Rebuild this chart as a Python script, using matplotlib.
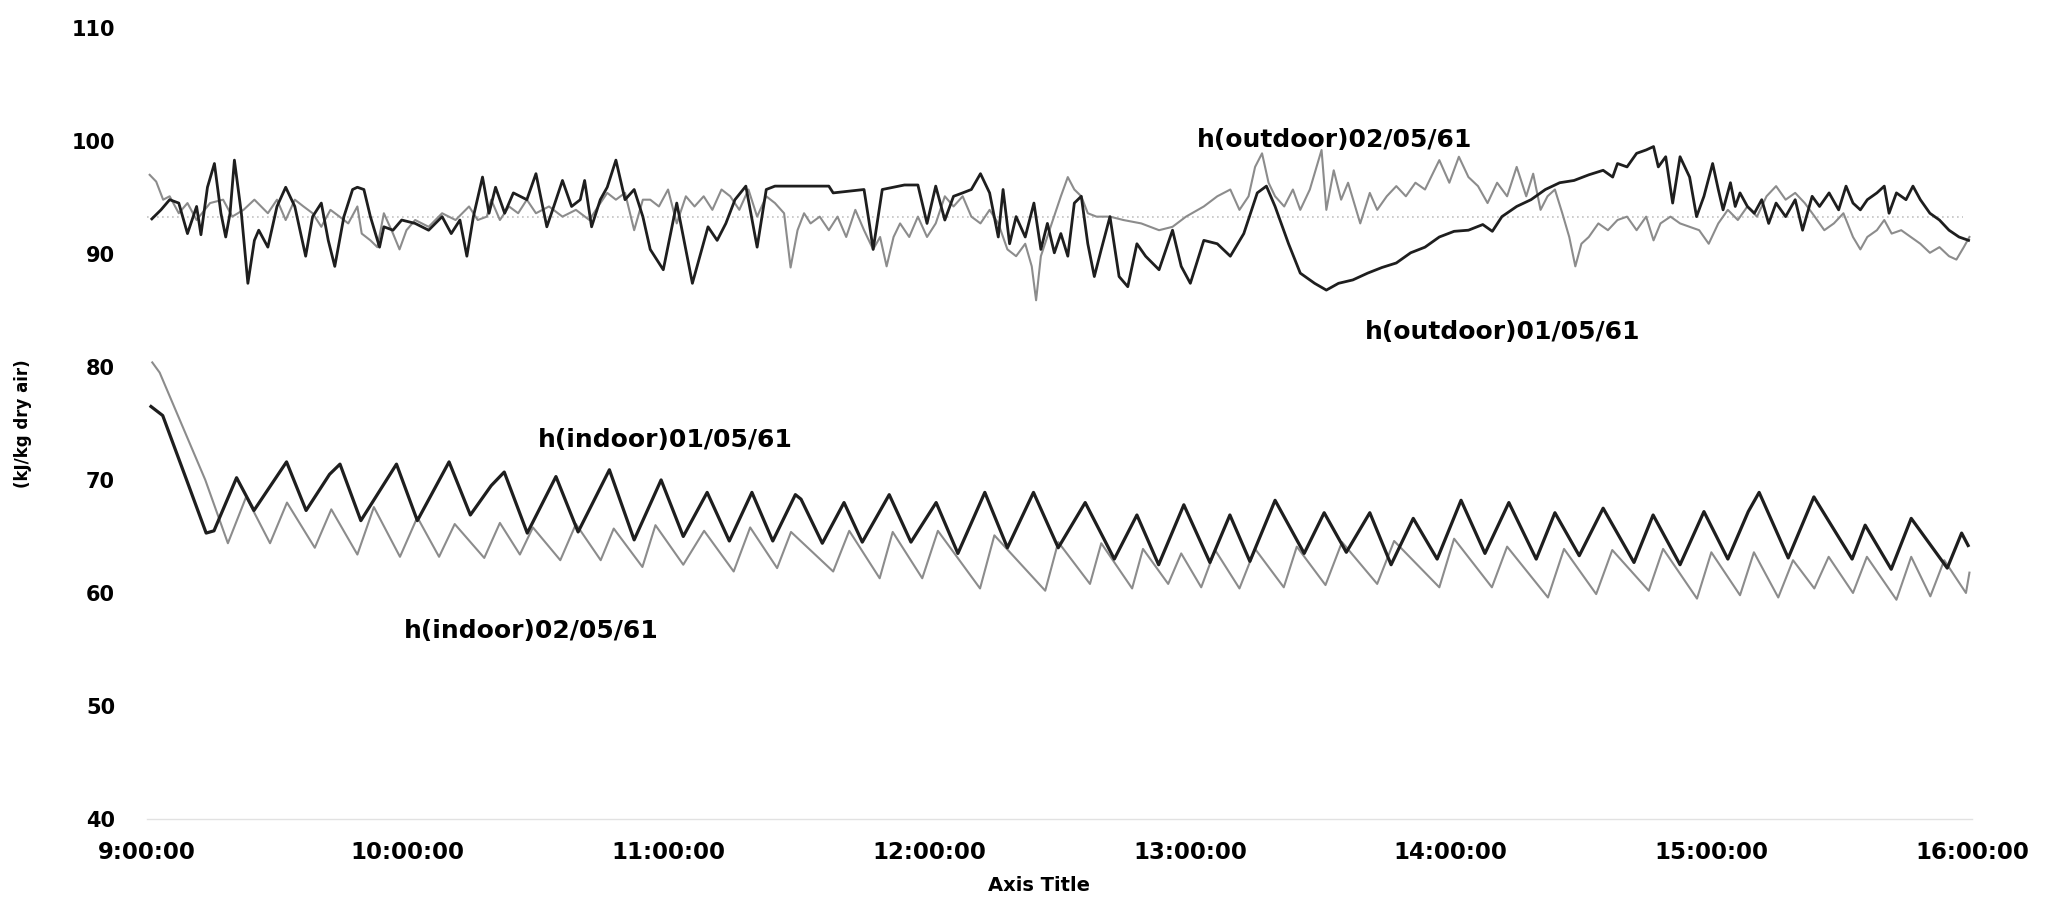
import matplotlib.pyplot as plt

# Enthalpy of air (kJ/kg dry air), indoor and outdoor, two days
# time in minutes after 9:00

# indoor, 01/05/61
in1_t = [0.9, 3.6, 9.1, 13.6, 15.4, 20.6, 24.6, 32.1, 36.6, 42.0, 44.4, 49.2, 57.4, 62.2,
         69.5, 74.4, 79.2, 82.2, 87.5, 94.1, 99.2, 106.4, 112.1, 118.3, 123.4, 128.9, 134.0,
         139.2, 144.0, 149.2, 150.5, 155.4, 160.4, 164.6, 170.8, 175.8, 181.6, 186.6, 192.8,
         198.0, 204.0, 209.7, 215.9, 222.6, 227.8, 232.8, 238.6, 244.6, 249.2, 253.8, 259.6,
         266.3, 270.9, 276.0, 281.4, 286.3, 291.4, 296.9, 302.4, 307.9, 313.4, 319.7, 324.0,
         329.6, 335.1, 342.2, 346.6, 352.8, 358.3, 363.8, 368.5, 371.0, 377.7, 383.6, 392.4,
         395.4, 401.4, 406.0, 414.3, 417.6, 419.1]
in1_v = [76.5, 75.7, 70.0, 65.3, 65.5, 70.2, 67.3, 71.6, 67.3, 70.5, 71.4, 66.4, 71.4, 66.4,
         71.6, 66.9, 69.5, 70.7, 65.3, 70.3, 65.4, 70.9, 64.7, 70.0, 65.0, 68.9, 64.6,
         68.9, 64.6, 68.7, 68.3, 64.4, 68.0, 64.5, 68.7, 64.5, 68.0, 63.5, 68.9,
         64.0, 68.9, 64.0, 68.0, 63.0, 66.9, 62.5, 67.8, 62.7, 66.9, 62.8, 68.2,
         63.5, 67.1, 63.6, 67.1, 62.5, 66.6, 63.0, 68.2, 63.5, 68.0, 63.0, 67.1,
         63.3, 67.5, 62.7, 66.9, 62.5, 67.2, 63.0, 67.2, 68.9, 63.1, 68.5, 63.0,
         66.0, 62.1, 66.6, 62.2, 65.3, 64.2]

# indoor, 02/05/61
in2_t = [1.2, 2.9, 13.4, 18.6, 22.8, 28.3, 32.2, 38.6, 42.4, 48.4, 52.2, 58.2, 62.2, 67.2,
         70.8, 77.6, 81.2, 85.8, 88.8, 95.1, 98.7, 104.4, 107.4, 114.0, 117.0, 123.4, 128.2,
         135.0, 138.8, 145.0, 148.2, 157.9, 161.6, 168.6, 171.6, 178.4, 182.0, 191.7, 195.0,
         206.7, 209.7, 217.0, 219.6, 226.7, 229.2, 235.0, 238.0, 242.6, 245.8, 251.4, 255.0,
         261.6, 264.6, 271.2, 275.0, 283.1, 287.0, 297.4, 300.8, 309.5, 313.0, 322.4, 326.1,
         333.5, 337.2, 345.6, 348.9, 356.7, 360.0, 366.6, 369.8, 375.4, 378.8, 383.7, 387.0,
         392.6, 395.8, 402.6, 406.0, 410.4, 413.6, 418.6, 419.4]
in2_v = [80.4, 79.5, 70.0, 64.4, 68.5, 64.4, 68.0, 64.0, 67.4, 63.4, 67.6, 63.2, 66.7, 63.2,
         66.1, 63.1, 66.2, 63.4, 65.8, 62.9, 66.1, 62.9, 65.7, 62.3, 66.0, 62.5, 65.5,
         61.9, 65.8, 62.2, 65.4, 61.9, 65.5, 61.3, 65.4, 61.3, 65.5, 60.4, 65.1,
         60.2, 64.5, 60.8, 64.4, 60.4, 63.9, 60.8, 63.5, 60.5, 63.8, 60.4, 63.9,
         60.5, 64.1, 60.7, 64.5, 60.8, 64.6, 60.5, 64.8, 60.5, 64.1, 59.6, 63.9,
         59.9, 63.8, 60.2, 63.9, 59.5, 63.6, 59.8, 63.6, 59.6, 62.9, 60.4, 63.2,
         60.0, 63.2, 59.4, 63.2, 59.7, 62.9, 60.0, 61.8]

# outdoor, 01/05/61
out1_t = [1.1, 3.2, 5.2, 7.3, 9.3, 11.4, 12.4, 13.9, 15.5, 17.0, 18.1, 19.1, 20.1, 21.7,
          23.2, 24.7, 25.7, 27.8, 29.9, 31.9, 34.0, 36.5, 38.1, 40.1, 41.7, 43.2, 45.3,
          47.3, 48.4, 49.9, 51.4, 53.5, 54.5, 56.6, 58.6, 61.7, 64.8, 67.9, 70.0, 72.0,
          73.6, 75.1, 77.2, 78.7, 80.2, 82.3, 84.3, 87.4, 89.5, 92.0, 93.6, 95.6, 97.7,
          99.7, 100.7, 102.3, 104.3, 105.9, 107.9, 110.0, 112.1, 114.1,
          115.8, 118.8, 121.9, 125.5, 129.1, 131.2, 133.2, 135.3, 137.8, 140.4, 142.5,
          144.5, 146.6, 156.9, 157.9, 165.0, 166.1, 167.1, 169.2, 174.3, 177.4, 179.5,
          181.5, 183.6, 185.6, 187.7, 189.7, 191.8, 193.9, 195.9, 197.0, 198.5, 200.0,
          202.1, 204.1, 205.7, 207.2, 208.8, 210.3, 211.9, 213.4, 215.0, 216.5, 218.0,
          219.6, 221.6, 223.7, 225.7, 227.8, 229.8, 232.9, 236.0, 238.0, 240.1, 243.2,
          246.3, 249.3, 252.4, 255.5, 257.6, 259.6, 262.7,
          265.4, 268.7, 271.4, 274.2, 277.5, 280.9, 284.2, 287.5, 290.8, 294.1, 297.4,
          300.8, 304.1, 307.4, 309.6, 311.8, 315.2, 318.5, 321.8, 325.1, 328.4, 331.8,
          335.1, 337.3, 338.4, 340.6, 342.8, 345.0, 346.7, 347.8, 349.5, 351.1, 352.8,
          355.0, 356.6, 358.3, 360.3, 361.6, 362.7, 364.4, 365.5, 366.6, 368.3, 369.9,
          371.6, 373.2, 374.9, 377.1, 379.3, 381.0, 383.2, 384.9, 387.1, 389.3, 391.0,
          392.6, 394.3, 395.9, 398.1, 399.8, 400.9, 402.6, 404.8, 406.4, 408.1, 410.3,
          412.5, 414.7, 417.0, 419.2]
out1_v = [93.1, 93.9, 94.8, 94.5, 91.8, 94.2, 91.7, 95.9, 98.0, 93.6, 91.5, 93.6, 98.3, 93.6,
          87.4, 91.2, 92.1, 90.6, 94.2, 95.9, 94.2, 89.8, 93.3, 94.5, 91.2, 88.9, 93.3,
          95.7, 95.9, 95.7, 93.3, 90.6, 92.4, 92.1, 93.0, 92.7, 92.1, 93.3, 91.8, 93.0,
          89.8, 93.3, 96.8, 93.6, 95.9, 93.6, 95.4, 94.8, 97.1, 92.4, 94.2, 96.5, 94.2,
          94.8, 96.5, 92.4, 94.8, 95.9, 98.3, 94.8, 95.7, 93.3,
          90.4, 88.6, 94.5, 87.4, 92.4, 91.2, 92.7, 94.8, 96.0, 90.6, 95.7,
          96.0, 96.0, 96.0, 95.4, 95.7, 93.0, 90.4, 95.7, 96.1, 96.1, 92.7,
          96.0, 93.0, 95.1, 95.4, 95.7, 97.1, 95.4, 91.5, 95.7, 90.9, 93.3,
          91.5, 94.5, 90.4, 92.7, 90.1, 91.8, 89.8, 94.5, 95.1, 90.9, 88.0,
          90.4, 93.3, 88.0, 87.1, 90.9, 89.8, 88.6, 92.1, 88.9, 87.4, 91.2,
          90.9, 89.8, 91.8, 95.4, 96.0, 94.2, 90.9,
          88.3, 87.4, 86.8, 87.4, 87.7, 88.3, 88.8, 89.2, 90.1, 90.6, 91.5,
          92.0, 92.1, 92.6, 92.0, 93.3, 94.2, 94.8, 95.7, 96.3, 96.5, 97.0,
          97.4, 96.8, 98.0, 97.7, 98.9, 99.2, 99.5, 97.7, 98.6, 94.5, 98.6,
          96.8, 93.3, 95.1, 98.0, 95.7, 93.9, 96.3, 94.2, 95.4, 94.2, 93.6,
          94.8, 92.7, 94.5, 93.3, 94.8, 92.1, 95.1, 94.2, 95.4, 93.9, 96.0,
          94.5, 93.9, 94.8, 95.4, 96.0, 93.6, 95.4, 94.8, 96.0, 94.8, 93.6,
          93.0, 92.1, 91.5, 91.2]

# outdoor, 02/05/61
out2_t = [0.6, 2.1, 3.7, 5.2, 7.3, 9.3, 11.4, 14.5, 17.5, 19.6, 22.2, 24.7, 27.8, 29.9,
          31.9, 34.0, 36.0, 38.1, 40.1, 42.2, 44.3, 46.3, 48.4, 49.4, 51.4, 53.0, 54.5,
          56.6, 58.1, 59.7, 61.7, 64.8, 67.9, 71.0, 74.1, 76.1, 78.2, 79.2, 81.2, 83.3,
          85.4, 87.4, 89.5, 92.5, 95.6, 98.7, 101.8, 103.8, 105.9, 107.9, 110.0, 112.1, 114.1,
          115.8, 117.8, 119.9, 121.9, 124.0, 126.0, 128.1, 130.1, 132.2, 134.2, 136.3,
          138.4, 140.4, 142.5, 144.5, 146.6, 148.1, 149.7, 151.2, 152.7, 154.8, 156.9,
          158.9, 160.9, 163.0, 165.0, 167.1, 168.7, 170.2, 171.8, 173.3, 175.4, 177.4,
          179.5, 181.5, 183.6, 185.6, 187.7, 189.7, 191.8, 193.9, 195.9, 198.0, 200.0,
          202.1, 203.6, 204.6, 205.7, 208.2, 210.3, 211.9, 213.4, 215.0, 216.5, 218.5,
          221.6, 224.7, 228.8, 232.9, 236.0, 239.1, 243.2, 246.3, 249.3, 251.4, 253.5,
          255.0, 256.6, 258.1, 259.6, 261.7, 263.7,
          265.4, 267.6, 270.3, 271.4, 273.1, 274.8, 276.4, 279.2, 281.4, 283.1, 285.3,
          287.5, 289.7, 291.9, 294.1, 297.4, 299.7, 301.9, 304.1, 306.3, 308.5, 310.7,
          313.0, 315.2, 317.4, 319.0, 320.7, 322.3, 324.0, 325.7, 327.3, 328.7, 330.1,
          331.8, 334.0, 336.2, 338.4, 340.6, 342.8, 345.0, 346.7, 348.3, 350.6, 352.8,
          355.0, 357.2, 359.4, 361.6, 363.8, 366.1, 368.3, 370.5, 372.7, 374.9, 377.1,
          379.3, 381.5, 383.8, 386.0, 388.2, 390.4, 392.6, 394.3, 395.9, 398.1, 399.8,
          401.5, 403.7, 405.9, 408.1, 410.3, 412.5, 414.7, 416.4, 418.1, 419.4]
out2_v = [97.0, 96.4, 94.8, 95.1, 93.6, 94.5, 93.0, 94.5, 94.8, 93.3, 93.9, 94.8, 93.6, 94.8,
          93.0, 94.8, 94.2, 93.6, 92.4, 93.9, 93.3, 92.7, 94.2, 91.8, 91.2, 90.6, 93.6,
          91.8, 90.4, 92.1, 93.0, 92.4, 93.6, 93.0, 94.2, 93.0, 93.3, 94.8, 93.0, 94.2,
          93.6, 94.8, 93.6, 94.2, 93.3, 93.9, 93.0, 94.2, 95.4, 94.8, 95.4, 92.1, 94.8,
          94.8, 94.2, 95.7, 92.7, 95.1, 94.2, 95.1, 93.9, 95.7, 95.1, 93.9,
          95.7, 93.3, 95.1, 94.5, 93.6, 88.8, 92.1, 93.6, 92.7, 93.3, 92.1,
          93.3, 91.5, 93.9, 92.1, 90.4, 91.5, 88.9, 91.5, 92.7, 91.5, 93.3,
          91.5, 92.7, 95.1, 94.2, 95.1, 93.3, 92.7, 93.9, 92.7, 90.4, 89.8,
          90.9, 88.9, 85.9, 89.8, 92.7, 95.1, 96.8, 95.7, 95.1, 93.6, 93.3,
          93.3, 93.0, 92.7, 92.1, 92.4, 93.3, 94.2, 95.1, 95.7, 93.9, 95.1,
          97.7, 98.9, 96.3, 95.1, 94.2, 95.7,
          93.9, 95.7, 99.2, 93.9, 97.4, 94.8, 96.3, 92.7, 95.4, 93.9, 95.1,
          96.0, 95.1, 96.3, 95.7, 98.3, 96.3, 98.6, 96.8, 96.0, 94.5, 96.3,
          95.1, 97.7, 95.1, 97.1, 93.9, 95.1, 95.7, 93.6, 91.5, 88.9, 90.9,
          91.5, 92.7, 92.1, 93.0, 93.3, 92.1, 93.3, 91.2, 92.7, 93.3, 92.7,
          92.4, 92.1, 90.9, 92.7, 93.9, 93.0, 94.2, 93.3, 95.1, 96.0, 94.8,
          95.4, 94.5, 93.3, 92.1, 92.7, 93.6, 91.5, 90.4, 91.5, 92.1, 93.0,
          91.8, 92.1, 91.5, 90.9, 90.1, 90.6, 89.8, 89.5, 90.6, 91.5]

ref_level = 93.3

tick_minutes = [0, 60, 120, 180, 240, 300, 360, 420]
tick_labels = ['9:00:00', '10:00:00', '11:00:00', '12:00:00',
               '13:00:00', '14:00:00', '15:00:00', '16:00:00']
y_ticks = [40, 50, 60, 70, 80, 90, 100, 110]

# ------------------------------------------------------------------

plt.rcParams['font.family'] = ['DejaVu Sans']
plt.rcParams['font.weight'] = 'bold'

fig = plt.figure(figsize=(20.54, 9), dpi=100)
ax = fig.add_axes([0.0716, 0.09, 0.8885, 0.879])

dark = '#1e1e1e'
grey = '#8c8c8c'

ax.hlines(ref_level, 0, 418, colors='#c4c4c4', linestyles=(0, (1, 2)), linewidth=1.2)

ax.plot(out2_t, out2_v, color=grey, linewidth=1.5)
ax.plot(out1_t, out1_v, color=dark, linewidth=2.0)
ax.plot(in2_t, in2_v, color=grey, linewidth=1.5)
ax.plot(in1_t, in1_v, color=dark, linewidth=2.3)

txt = dict(fontsize=18, fontweight='bold', color='black', va='center', ha='left')
ax.text(241.7, 100.1, 'h(outdoor)02/05/61', **txt)
ax.text(280.3, 83.1, 'h(outdoor)01/05/61', **txt)
ax.text(90.0, 73.5, 'h(indoor)01/05/61', **txt)
ax.text(59.1, 56.6, 'h(indoor)02/05/61', **txt)

ax.set_xlim(0, 420)
ax.set_ylim(40, 110)
ax.set_xticks(tick_minutes)
ax.set_xticklabels(tick_labels, fontsize=16.5, fontweight='bold')
ax.set_yticks(y_ticks)
ax.set_yticklabels([str(v) for v in y_ticks], fontsize=15, fontweight='bold')
ax.tick_params(axis='x', length=0, pad=16)
ax.tick_params(axis='y', length=0, pad=23)

for side in ['top', 'right', 'left']:
    ax.spines[side].set_visible(False)
ax.spines['bottom'].set_color('#e2e2e2')
ax.spines['bottom'].set_linewidth(1.0)

ax.set_xlabel('Axis Title', fontsize=14, fontweight='bold')
ax.xaxis.set_label_coords(0.489, -0.072)
ax.set_ylabel('(kJ/kg dry air)', fontsize=12, fontweight='bold')
ax.yaxis.set_label_coords(-0.063, 0.5)

fig.savefig('out.png', dpi=100, facecolor='white')
